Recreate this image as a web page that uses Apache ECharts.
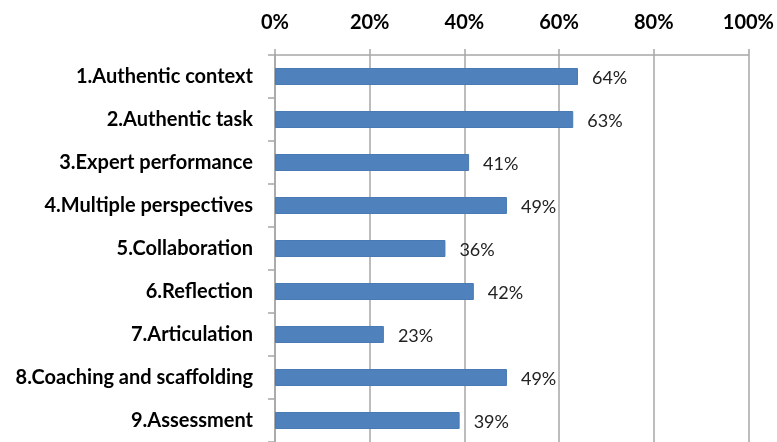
<!DOCTYPE html>
<html>
<head>
<meta charset="utf-8">
<script src="https://cdn.jsdelivr.net/npm/echarts@6/dist/echarts.min.js"></script>
<style>
  html, body { margin: 0; padding: 0; background: #fff; }
  #chart { width: 777px; height: 442px; }
</style>
</head>
<body>
<div id="chart"></div>
<script>
var categories = ['1.Authentic context', '2.Authentic task', '3.Expert performance', '4.Multiple perspectives',
    '5.Collaboration', '6.Reflection', '7.Articulation', '8.Coaching and scaffolding', '9.Assessment'];
var values = [64, 63, 41, 49, 36, 42, 23, 49, 39];
var tickMin = 0, tickMax = 100, tickStep = 20;

var myChart = echarts.init(document.getElementById('chart'));
var gridColor = '#a6a6a6';
var option = {
    animation: false,
    grid: {
        left: 275,
        right: 28,
        top: 55,
        height: 392
    },
    xAxis: {
        type: 'value',
        position: 'top',
        min: tickMin,
        max: tickMax,
        interval: tickStep,
        axisLine: { show: true, lineStyle: { color: gridColor, width: 1.5 } },
        axisTick: { show: true, length: 6, lineStyle: { color: gridColor, width: 1.5 } },
        splitLine: { show: true, lineStyle: { color: gridColor, width: 1.5 } },
        axisLabel: {
            formatter: '{value}%',
            color: '#000',
            fontFamily: 'Lato',
            fontWeight: 'bold',
            fontSize: 20,
            margin: 22
        }
    },
    yAxis: {
        type: 'category',
        inverse: true,
        data: categories,
        axisLine: { show: true, lineStyle: { color: gridColor, width: 1.5 } },
        axisTick: { show: true, length: 7, lineStyle: { color: gridColor, width: 1.5 } },
        axisLabel: {
            color: '#000',
            fontFamily: 'Lato',
            fontWeight: 'bold',
            fontSize: 20,
            margin: 22
        }
    },
    series: [{
        type: 'bar',
        data: values,
        barWidth: 17,
        itemStyle: {
            color: '#4f81bd',
            borderColor: '#4a7ab3',
            borderWidth: 1
        },
        label: {
            show: true,
            position: 'right',
            distance: 14,
            offset: [0, 2],
            formatter: '{c}%',
            color: '#222',
            fontFamily: 'Lato',
            fontSize: 18
        }
    }]
};
myChart.setOption(option);
window.addEventListener('resize', function () {
    myChart.resize();
});
</script>
</body>
</html>
